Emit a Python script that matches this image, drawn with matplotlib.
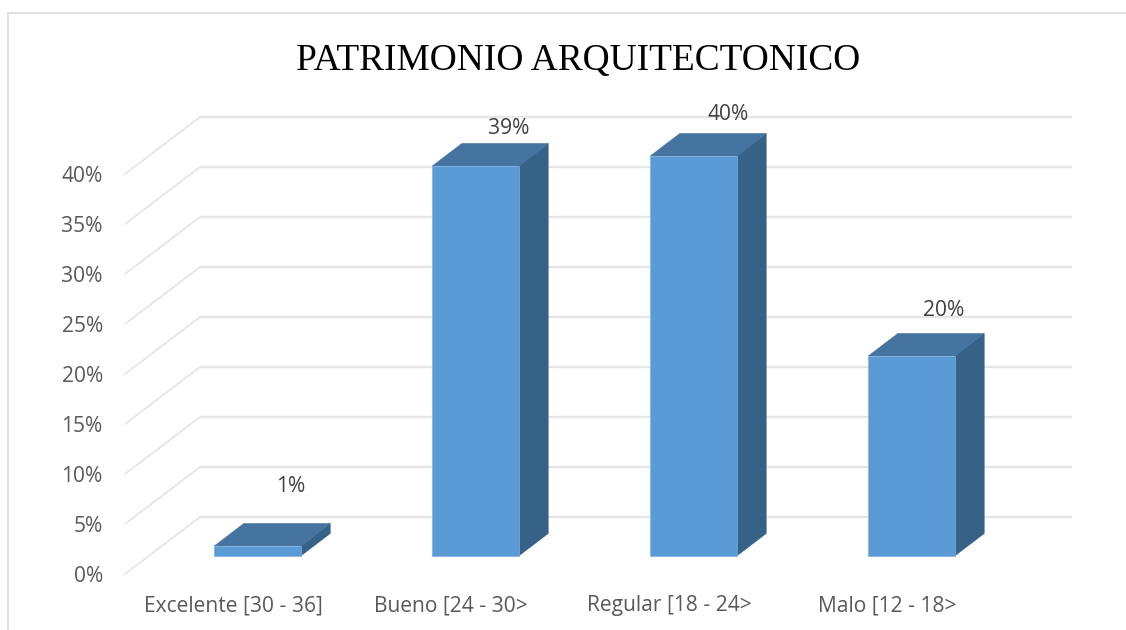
import matplotlib
matplotlib.use("Agg")
import matplotlib.pyplot as plt
from matplotlib.patches import Polygon
from matplotlib.lines import Line2D

categories = ["Excelente [30 - 36]", "Bueno [24 - 30>", "Regular [18 - 24>", "Malo [12 - 18>"]
values = [1, 39, 40, 20]
y_ticks = [0, 5, 10, 15, 20, 25, 30, 35, 40]
title = "PATRIMONIO ARQUITECTONICO"

W, H = 1126, 630
PX_X = 218.0   # px per category
PX_Y = 10.0    # px per percent unit
fig = plt.figure(figsize=(W / 100, H / 100), dpi=100, facecolor="white")
L, R, T, B = 125, 1072, 117, 574
ax = fig.add_axes([L / W, 1 - B / H, (R - L) / W, (B - T) / H])
ax.set_xlim((L - 233) / PX_X, (R - 233) / PX_X)
ax.set_ylim(0, (B - T) / PX_Y)
ax.patch.set_alpha(0)
for s in ax.spines.values():
    s.set_visible(False)

GREY = "#595959"
ax.set_xticks(range(len(categories)), categories)
ax.set_yticks(y_ticks, [f"{v}%" for v in y_ticks])
ax.tick_params(axis="both", length=0, labelsize=15.1, labelcolor=GREY)
ax.tick_params(axis="x", pad=15.2)
ax.tick_params(axis="y", pad=16)
for t in ax.get_xticklabels() + ax.get_yticklabels():
    t.set_family("Open Sans")

# wall / floor gridlines
wall_dx, wall_dy = 75 / PX_X, 57 / PX_Y
x0 = ax.get_xlim()[0]
x1 = ax.get_xlim()[1]
for v in y_ticks:
    ax.plot([x0, x0 + wall_dx], [v, v + wall_dy], color="#E2E2E2", lw=1.1, clip_on=False, zorder=1, solid_capstyle="round")
    ax.plot([x0 + wall_dx, x1], [v + wall_dy, v + wall_dy], color="#E6E6E6", lw=1.7, clip_on=False, zorder=1, solid_capstyle="butt")

# 3D bars
floor_dx, floor_dy = 24.5 / PX_X, 18 / PX_Y
half = 43.2 / PX_X
dep_x, dep_y = 29.5 / PX_X, 22.5 / PX_Y
FRONT, TOP, SIDE = "#5B9BD5", "#44749F", "#376287"
label_dy = [59, 37, 41, 45]
label_dx = [33.5, 33, 35, 32]
for i, v in enumerate(values):
    xl, xr = i + floor_dx - half, i + floor_dx + half
    yb, yt = floor_dy, floor_dy + v
    ax.add_patch(Polygon([(xr, yb), (xr + dep_x, yb + dep_y), (xr + dep_x, yt + dep_y), (xr, yt)],
                         closed=True, fc=SIDE, ec=SIDE, lw=0.4, zorder=3, clip_on=False))
    ax.add_patch(Polygon([(xl, yt), (xl + dep_x, yt + dep_y), (xr + dep_x, yt + dep_y), (xr, yt)],
                         closed=True, fc=TOP, ec=TOP, lw=0.4, zorder=3, clip_on=False))
    ax.add_patch(Polygon([(xl, yb), (xr, yb), (xr, yt), (xl, yt)],
                         closed=True, fc=FRONT, ec="#7FB0DE", lw=0.5, zorder=4, clip_on=False))
    ax.annotate(f"{v}%", xy=(i + floor_dx, yt), xytext=(label_dx[i] * 0.72, label_dy[i] * 0.72),
                textcoords="offset points", ha="center", va="center", fontsize=15.1,
                color="#404040", family="Open Sans", annotation_clip=False, zorder=5)

# chart border
fig.add_artist(Line2D([8 / W, 8 / W], [0, 1 - 13 / H], color="#D9D9D9", lw=1.1))
fig.add_artist(Line2D([8 / W, W / W], [1 - 13 / H, 1 - 13 / H], color="#D9D9D9", lw=1.1))

fig.text(578.5 / W, 1 - 61 / H, title, ha="center", va="center",
         family="Liberation Serif", fontsize=26.9, color="black")

fig.savefig("out.png", dpi=100)
